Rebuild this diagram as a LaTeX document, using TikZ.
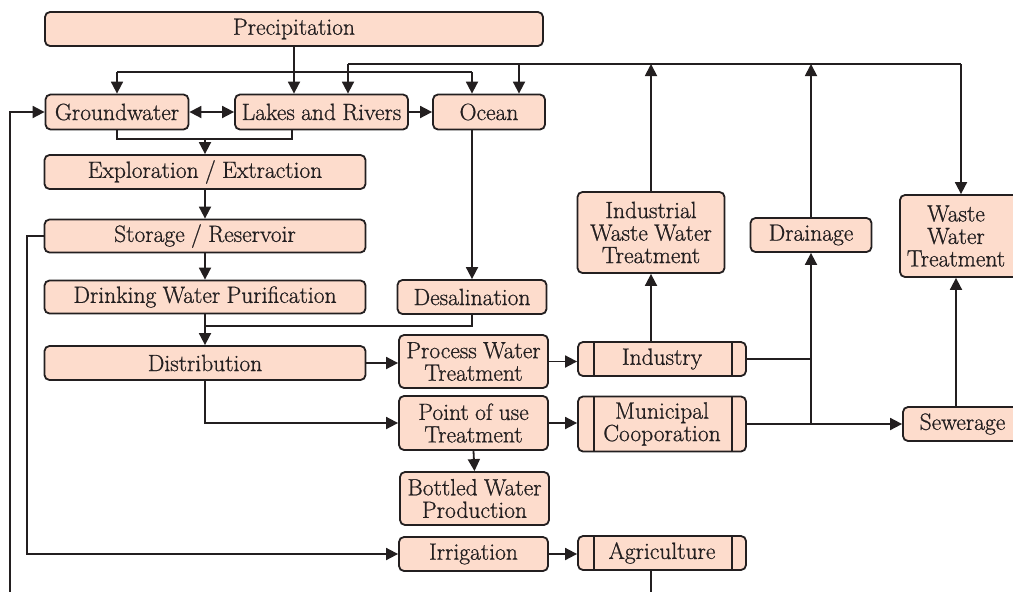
\documentclass[tikz,border=0pt]{standalone}
\usepackage{fontspec}
\setmainfont{Latin Modern Roman}[FakeBold=0.8]
\usetikzlibrary{arrows.meta,calc}
\definecolor{boxfill}{HTML}{FDDCCC}
\definecolor{ink}{HTML}{231F20}
\newcommand\myboxfont{\fontsize{23.5}{22.5}\selectfont\spaceskip=0.27em plus 0.1em minus 0.05em\relax}
\begin{document}
\begin{tikzpicture}[x=1pt,y=-1pt,
  box/.style={draw=ink, line width=1.8pt, fill=boxfill, rounded corners=5pt,
    inner sep=0pt, align=center, text=ink, font=\myboxfont},
  proc/.style={box, path picture={
    \draw[ink,line width=1.8pt] ([xshift=16pt]path picture bounding box.south west) -- ([xshift=16pt]path picture bounding box.north west);
    \draw[ink,line width=1.8pt] ([xshift=-14pt]path picture bounding box.south east) -- ([xshift=-14pt]path picture bounding box.north east);}},
  conn/.style={draw=ink, line width=1.8pt},
  arr/.style={conn, -{Triangle[length=12pt,width=12pt]}},
  arrb/.style={conn, {Triangle[length=12pt,width=12pt]}-{Triangle[length=12pt,width=12pt]}}]
\useasboundingbox (0,0) rectangle (1013,592);
\clip (0,0) rectangle (1013,592);

% nodes
\node[box, minimum width=498pt, minimum height=34pt] (prec) at (294,29) {Precipitation};
\node[box, minimum width=143pt, minimum height=35pt] (gw) at (117,112) {Groundwater};
\node[box, minimum width=173pt, minimum height=35pt] (lr) at (321.5,112) {Lakes and Rivers};
\node[box, minimum width=112pt, minimum height=35pt] (ocean) at (489,112) {Ocean};
\node[box, minimum width=321pt, minimum height=34pt] (expl) at (205,172) {Exploration / Extraction};
\node[box, minimum width=321pt, minimum height=33pt] (stor) at (205,236) {Storage / Reservoir};
\node[box, minimum width=321pt, minimum height=33pt] (drink) at (205,297) {Drinking Water Purification};
\node[box, minimum width=149pt, minimum height=34pt] (desal) at (472,297) {Desalination};
\node[box, minimum width=321pt, minimum height=34pt] (dist) at (205,363) {Distribution};
\node[box, minimum width=149pt, minimum height=53pt] (pwt) at (473.5,361.5) {Process Water\\Treatment};
\node[box, minimum width=149pt, minimum height=54pt] (pou) at (473.5,423) {Point of use\\Treatment};
\node[box, minimum width=149pt, minimum height=53pt] (bot) at (474.5,498.5) {Bottled Water\\Production};
\node[box, minimum width=149pt, minimum height=34pt] (irr) at (473.5,554) {Irrigation};
\node[proc, minimum width=168pt, minimum height=34pt] (ind) at (662,359) {Industry};
\node[proc, minimum width=168pt, minimum height=55pt] (mun) at (662,424) {Municipal\\Cooporation};
\node[proc, minimum width=168pt, minimum height=34pt] (agr) at (662,553) {Agriculture};
\node[box, minimum width=147pt, minimum height=81pt] (iwwt) at (651,232.5) {Industrial\\Waste Water\\Treatment};
\node[box, minimum width=121pt, minimum height=34pt] (drain) at (811,235) {Drainage};
\node[box, minimum width=118pt, minimum height=82pt] (wwt) at (959,236) {\hspace*{-6pt}Waste\\\hspace*{-6pt}Water\\\hspace*{-6pt}Treatment};
\node[box, minimum width=115pt, minimum height=34pt] (sew) at (960.5,424) {Sewerage\hspace*{-4pt}};

% junction coordinates
\coordinate (lowL) at (117,72);
\coordinate (lowR) at (472,72);
\coordinate (topL) at (348,64);
\coordinate (topO) at (519,64);
\coordinate (topR) at (961,64);
\coordinate (gwj) at (117,139);
\coordinate (lrj) at (292,139);
\coordinate (exj) at (205,139);
\coordinate (dsj) at (205,326);
\coordinate (stj) at (27,236);
\coordinate (leftB) at (10,600);
\coordinate (agrB) at (651,600);

% precipitation
\draw[arr] (prec.south) -- (prec.south |- lr.north);
\draw[conn] (lowL) -- (lowR);
\draw[arr] (lowL) -- (gw.north);
\draw[arr] (lowR) -- (lowR |- ocean.north);
% upper return line
\draw[conn] (topL) -- (topR);
\draw[arr] (topL) -- (topL |- lr.north);
\draw[arr] (topO) -- (topO |- ocean.north);
\draw[arr] (topR) -- (topR |- wwt.north);
\draw[arr] (iwwt.north) -- (iwwt.north |- topL);
\draw[arr] (drain.north) -- (drain.north |- topL);
% water bodies
\draw[arrb] (gw.east) -- (lr.west);
\draw[arr] (lr.east) -- (ocean.west);
\draw[conn] (gw.south) -- (gwj) -- (lrj) -- (lrj |- lr.south);
\draw[arr] (exj) -- (expl.north);
\draw[arr] (expl.south) -- (stor.north);
\draw[arr] (stor.south) -- (drink.north);
\draw[arr] (desal.north |- ocean.south) -- (desal.north);
\draw[arr] (drink.south) -- (dist.north);
\draw[conn] (desal.south) |- (dsj);
% distribution
\draw[arr] (dist.east) -- (dist.east -| pwt.west);
\draw[arr] (dist.south) |- (pou.west);
\draw[arr] (pou.south) -- (bot.north);
\draw[arr] (stor.west) -- (stj) |- (irr.west);
% users
\draw[arr] (pwt.east) -- (pwt.east -| ind.west);
\draw[arr] (pou.east) -- (pou.east -| mun.west);
\draw[arr] (irr.east) -- (irr.east -| agr.west);
\draw[arr] (iwwt.south |- ind.north) -- (iwwt.south);
\draw[conn] (ind.east) -- (ind.east -| drain.south);
\draw[arr] (drain.south |- mun.east) -- (drain.south);
\draw[arr] (mun.east) -- (mun.east -| sew.west);
\draw[arr] (956,0 |- sew.north) -- (956,0 |- wwt.south);
\draw[conn] (agrB |- agr.south) -- (agrB);
\draw[arr] (leftB) |- (gw.west);
\end{tikzpicture}
\end{document}
